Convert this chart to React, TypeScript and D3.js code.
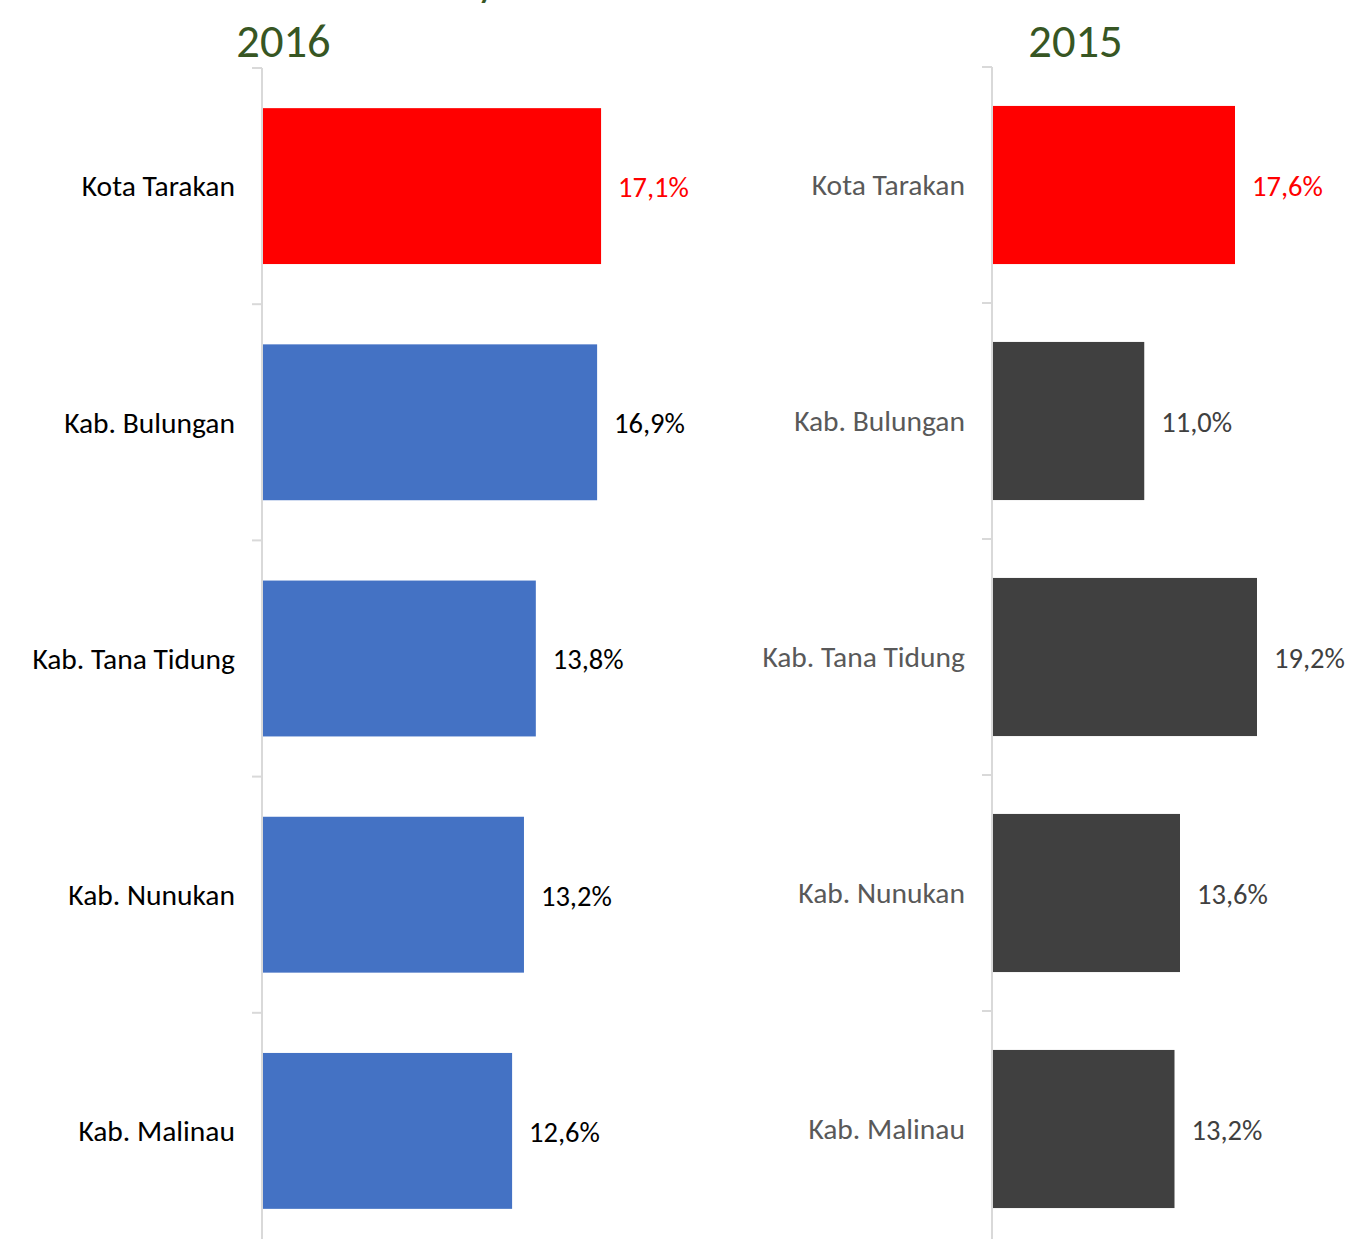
// @ts-nocheck
import React, { useRef, useEffect } from "react";
import * as d3 from "d3";

const categories = [
  "Kota Tarakan",
  "Kab. Bulungan",
  "Kab. Tana Tidung",
  "Kab. Nunukan",
  "Kab. Malinau",
];
const values2016 = [17.1, 16.9, 13.8, 13.2, 12.6];
const values2015 = [17.6, 11.0, 19.2, 13.6, 13.2];
const years = ["2016", "2015"];

const W = 1370;
const H = 1239;
const FONT = "Carlito, Calibri, Lato, sans-serif";

const fmt = (v: number) => v.toFixed(1).replace(".", ",") + "%";

function drawPanel(svg, opts) {
  const { values, axisX, xMax, title, titleX, barColor, labelColor, valueColor, yTop, yBottom, pad } = opts;
  const g = svg.append("g");

  const y = d3
    .scaleBand()
    .domain(categories)
    .range([yTop, yBottom])
    .paddingInner(pad)
    .paddingOuter(pad / 2);
  const x = d3.scaleLinear().domain([0, 20]).range([axisX + 1, xMax]);
  const step = y.step();

  // bars
  g.selectAll("rect.bar")
    .data(values)
    .enter()
    .append("rect")
    .attr("class", "bar")
    .attr("x", x(0))
    .attr("y", (d, i) => y(categories[i]))
    .attr("width", (d) => x(d) - x(0))
    .attr("height", y.bandwidth())
    .attr("fill", (d, i) => (i === 0 ? "#FF0000" : barColor));

  // axis line + ticks
  g.append("line")
    .attr("x1", axisX)
    .attr("x2", axisX)
    .attr("y1", yTop)
    .attr("y2", yBottom)
    .attr("stroke", "#D9D9D9")
    .attr("stroke-width", 2);
  const tickYs = categories.map((c) => y(c) - (step * pad) / 2).concat([yBottom]);
  g.selectAll("line.tick")
    .data(tickYs)
    .enter()
    .append("line")
    .attr("class", "tick")
    .attr("x1", axisX - 10)
    .attr("x2", axisX)
    .attr("y1", (d) => d)
    .attr("y2", (d) => d)
    .attr("stroke", "#D9D9D9")
    .attr("stroke-width", 2);

  // category labels
  g.selectAll("text.cat")
    .data(categories)
    .enter()
    .append("text")
    .attr("class", "cat")
    .attr("x", axisX - 27)
    .attr("y", (d) => y(d) + y.bandwidth() / 2)
    .attr("dy", "0.35em")
    .attr("text-anchor", "end")
    .attr("font-family", FONT)
    .attr("font-size", 29.5)
    .attr("fill", labelColor)
    .text((d) => d);

  // value labels
  g.selectAll("text.val")
    .data(values)
    .enter()
    .append("text")
    .attr("class", "val")
    .attr("x", (d) => x(d) + 17)
    .attr("y", (d, i) => y(categories[i]) + y.bandwidth() / 2)
    .attr("dy", "0.38em")
    .attr("font-family", FONT)
    .attr("font-size", 28.5)
    .attr("fill", (d, i) => (i === 0 ? "#FF0000" : valueColor))
    .text((d) => fmt(d));

  // title
  g.append("text")
    .attr("x", titleX)
    .attr("y", 57)
    .attr("text-anchor", "middle")
    .attr("font-family", FONT)
    .attr("font-size", 46.5)
    .attr("fill", "#375623")
    .text(title);
}

const App = () => {
  const ref = useRef(null);

  useEffect(() => {
    const svg = d3.select(ref.current);
    svg.selectAll("*").remove();

    // clipped main title (only a descender shows at the top edge)
    svg
      .append("text")
      .attr("x", 477)
      .attr("y", -4)
      .attr("font-family", FONT)
      .attr("font-size", 42)
      .attr("fill", "#375623")
      .text("y");

    drawPanel(svg, {
      values: values2016,
      axisX: 262,
      xMax: 262 + 1 + 19.77 * 20,
      title: years[0],
      titleX: 283.5,
      barColor: "#4472C4",
      labelColor: "#000000",
      valueColor: "#000000",
      yTop: 68,
      yBottom: 1249,
      pad: 0.34,
    });

    drawPanel(svg, {
      values: values2015,
      axisX: 992,
      xMax: 992 + 1 + 13.75 * 20,
      title: years[1],
      titleX: 1075.5,
      barColor: "#404040",
      labelColor: "#595959",
      valueColor: "#404040",
      yTop: 67,
      yBottom: 1247,
      pad: 0.33,
    });
  }, []);

  return (
    <svg
      ref={ref}
      width={W}
      height={H}
      style={{ position: "absolute", left: 0, top: 0, background: "#fff" }}
    />
  );
};

export default App;
